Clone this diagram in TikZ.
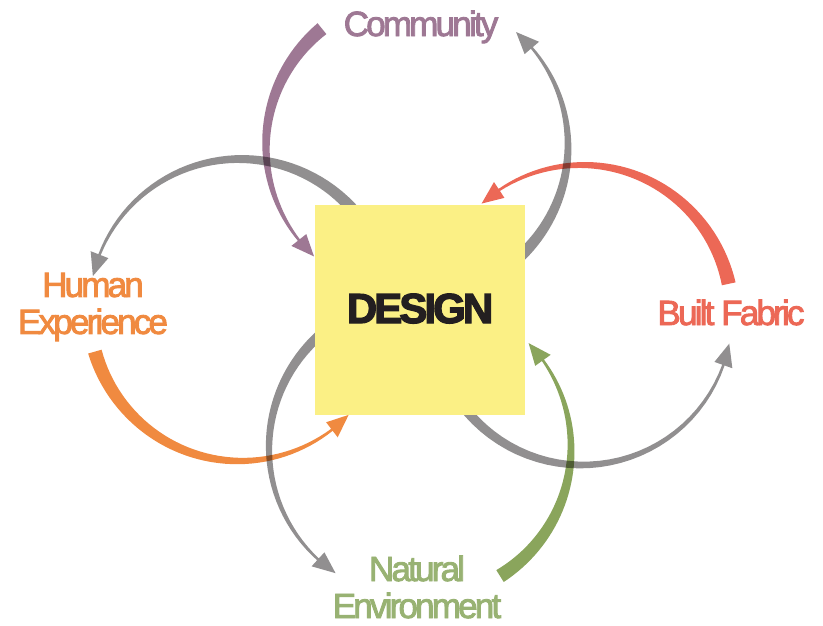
\documentclass[tikz,border=0pt]{standalone}
\usepackage{fontspec}
\setmainfont{Liberation Sans}
\newfontfamily\labelfont[LetterSpace=-8,FakeBold=2.5]{Liberation Sans}
\newfontfamily\titlefont[LetterSpace=-7,FakeBold=3]{Liberation Sans}
\usetikzlibrary{positioning}
\usepackage{xcolor}

\definecolor{flowgray}{RGB}{145,143,144}
\definecolor{commpurple}{RGB}{158,120,148}
\definecolor{humanorange}{RGB}{240,138,64}
\definecolor{builtred}{RGB}{236,104,86}
\definecolor{naturegreen}{RGB}{138,165,92}
\definecolor{naturetext}{RGB}{152,178,115}
\definecolor{designyellow}{RGB}{251,240,133}
\definecolor{designink}{RGB}{35,31,32}

% tapered arc with a head: centre x, centre y, radius, start angle, tip angle, tail width, colour
\newcommand{\flowarrow}[7]{%
  \pgfmathsetmacro{\flowbase}{#5+8.5}%
  \fill[#7] plot[domain=#4:\flowbase,samples=45]
      ({#1+(#3+(1.25+(#6/2-1.25)*(\x-(\flowbase))/(#4-(\flowbase))))*cos(\x)},
       {#2+(#3+(1.25+(#6/2-1.25)*(\x-(\flowbase))/(#4-(\flowbase))))*sin(\x)})
    -- ({#1+(#3+9.5)*cos(\flowbase)},{#2+(#3+9.5)*sin(\flowbase)})
    -- ({#1+#3*cos(#5)},{#2+#3*sin(#5)})
    -- ({#1+(#3-9.5)*cos(\flowbase)},{#2+(#3-9.5)*sin(\flowbase)})
    -- plot[domain=\flowbase:#4,samples=45]
      ({#1+(#3-(1.25+(#6/2-1.25)*(\x-(\flowbase))/(#4-(\flowbase))))*cos(\x)},
       {#2+(#3-(1.25+(#6/2-1.25)*(\x-(\flowbase))/(#4-(\flowbase))))*sin(\x)})
    -- cycle;%
}

\tikzset{
  flowlabel/.style={font=\labelfont\fontsize{26.25}{27.75}\selectfont, inner sep=0pt, align=center},
}

\begin{document}
\begin{tikzpicture}[x=0.75pt,y=0.75pt,yscale=-1,xscale=1]
\useasboundingbox (0,0) rectangle (823,625);

%Curve Lines (grey, out of design)
\flowarrow{417}{146}{151}{60}{-49}{13}{flowgray}
\flowarrow{240}{310}{151}{-25}{-167}{13}{flowgray}
\flowarrow{582}{315}{150}{195}{11}{13}{flowgray}
\flowarrow{420}{448}{151}{-95}{-236}{13}{flowgray}

% Shape: Square
\node[fill=designyellow, minimum size=157.5pt, inner sep=0pt] (design) at (420,310) {};

%Curve Lines (coloured, into design)
\begin{scope}[blend mode=multiply]
\flowarrow{417}{146}{151}{231}{133}{14}{commpurple}
\flowarrow{240}{310}{151}{164}{44}{14}{humanorange}
\flowarrow{582}{315}{150}{-12}{-132}{14}{builtred}
\flowarrow{420}{448}{151}{58}{-44}{14}{naturegreen}
\end{scope}

% Text Node
\node[font=\titlefont\bfseries\fontsize{31.5}{34}\selectfont, text=designink, anchor=base] (title) at (420,323) {DESIGN};
% Text Node
\node[flowlabel, text=commpurple, anchor=base] (community) at (421,36) {Community};
% Text Node
\node[flowlabel, text=humanorange] (human) at (93,307) {Human\\Experience};
% Text Node
\node[flowlabel, text=builtred, anchor=base] (built) at (731,325) {Built Fabric};
% Text Node
\node[flowlabel, text=naturetext] (natural) at (417,587) {Natural\\Environment};

\end{tikzpicture}
\end{document}
